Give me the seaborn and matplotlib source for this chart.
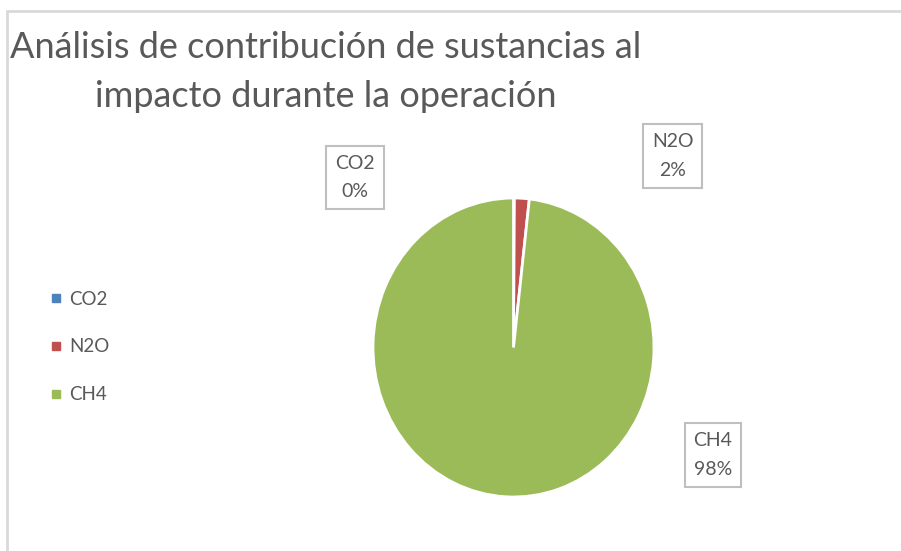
import matplotlib
matplotlib.use("Agg")
import matplotlib.pyplot as plt
from matplotlib.patches import Rectangle
from matplotlib.lines import Line2D
import seaborn as sns

# Datos del gráfico
sustancias = ["CO2", "N2O", "CH4"]
porcentajes = [0.1, 1.7, 98.2]
colores = ["#4f81bd", "#c0504d", "#9bbb59"]
titulo = "Análisis de contribución de sustancias al\nimpacto durante la operación"

sns.set_theme(style="white")
plt.rcParams["font.family"] = ["Lato", "DejaVu Sans"]

gris = "#595959"

fig = plt.figure(figsize=(9.01, 5.51), dpi=100)
W, H = 901, 551

# marco del área del gráfico (solo se ven borde izquierdo y superior)
fig.patches.append(Rectangle((7 / W, -0.1), 1.2, (551 - 11) / H + 0.1,
                             transform=fig.transFigure, fill=False,
                             edgecolor="#d9d9d9", linewidth=2))

# ejes del pastel en píxeles: x 373-654, y 198-497
ax = fig.add_axes([373 / W, (H - 497) / H, 281 / W, 299 / H])
wedges, _ = ax.pie(porcentajes, colors=colores, startangle=90, counterclock=False,
                   radius=1, wedgeprops=dict(edgecolor="white", linewidth=2))
ax.set_aspect("auto")
ax.set_xlim(-1, 1)
ax.set_ylim(-1, 1)
ax.axis("off")

# etiquetas de datos
pos_etiquetas = [(-1.128, 1.137), (1.135, 1.281), (1.420, -0.719)]
for nombre, pct, (x, y) in zip(sustancias, porcentajes, pos_etiquetas):
    ax.text(x, y, f"{nombre}\n{pct:.0f}%", ha="center", va="center",
            multialignment="center", fontsize=14, color=gris, linespacing=1.85,
            clip_on=False,
            bbox=dict(boxstyle="square,pad=0.45", facecolor="white",
                      edgecolor="#bfbfbf", linewidth=1.5))

# título
fig.text(326 / W, 1 - 72 / H, titulo, ha="center", va="center",
         multialignment="center", fontsize=26, color=gris, linespacing=1.6)

# leyenda
handles = [Line2D([], [], marker="s", linestyle="none", markersize=6,
                  markerfacecolor=c, markeredgecolor=c) for c in colores]
fig.legend(handles, sustancias, loc="center left",
           bbox_to_anchor=(30 / W, 1 - 347 / H), frameon=False,
           fontsize=13.5, labelcolor=gris, labelspacing=1.65,
           handletextpad=0.2, handlelength=1.0)

fig.savefig("out.png", dpi=100, facecolor="white")
